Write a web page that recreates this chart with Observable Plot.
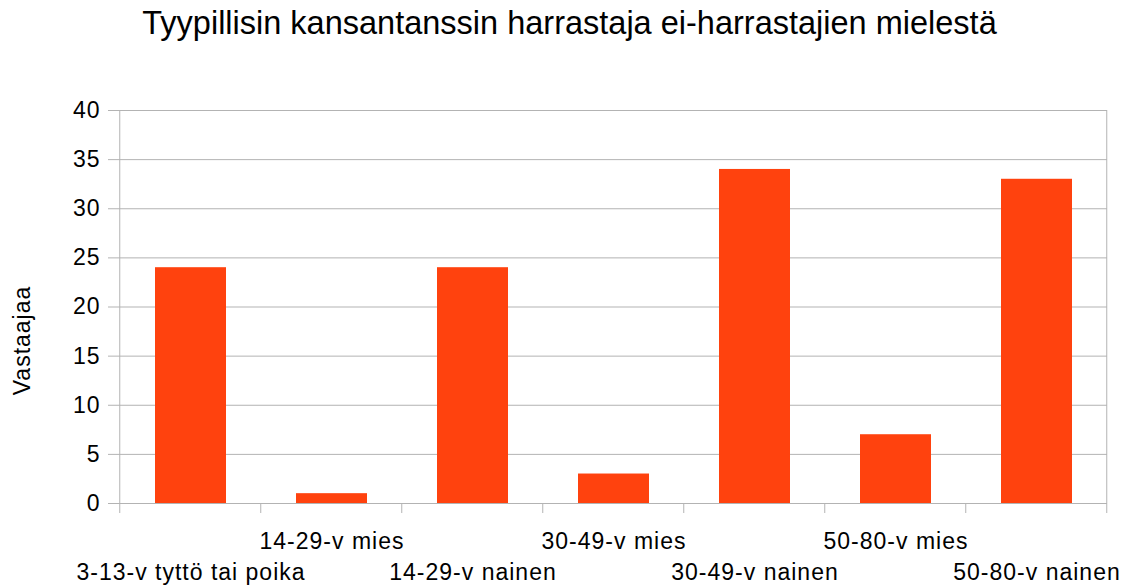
<!DOCTYPE html>
<html>
<head>
<meta charset="utf-8">
<script src="https://cdn.jsdelivr.net/npm/d3@7"></script>
<script src="https://cdn.jsdelivr.net/npm/@observablehq/plot@0.6"></script>
<style>
  body { margin: 0; background: #fff; font-family: "Liberation Sans", Arial, sans-serif; }
  #title { width: 1129px; box-sizing: border-box; padding-left: 10px; margin-top: 3px; height: 40px;
           font-size: 32.5px; line-height: 40px; text-align: center; color: #000; white-space: nowrap; }
  #chart svg { display: block; }
</style>
</head>
<body>
<div id="title"></div>
<div id="chart"></div>
<script>
const titleText = "Tyypillisin kansantanssin harrastaja ei-harrastajien mielestä";
const yLabel = "Vastaajaa";
const categories = [
  "3-13-v tyttö tai poika",
  "14-29-v mies",
  "14-29-v nainen",
  "30-49-v mies",
  "30-49-v nainen",
  "50-80-v mies",
  "50-80-v nainen"
];
const values = [24, 1, 24, 3, 34, 7, 33];
const yTicks = [0, 5, 10, 15, 20, 25, 30, 35, 40];

document.getElementById("title").textContent = titleText;

const data = categories.map((c, i) => ({category: c, value: values[i]}));
const upperRow = categories.filter((c, i) => i % 2 === 1);
const lowerRow = categories.filter((c, i) => i % 2 === 0);

const gridColor = "#b3b3b3";
const barColor = "#ff420e";

const plot = Plot.plot({
  width: 1129,
  height: 542,
  marginTop: 67,
  marginBottom: 82,
  marginLeft: 119,
  marginRight: 22,
  style: {fontFamily: "'Liberation Sans', Arial, sans-serif", background: "#fff", color: "#000", letterSpacing: "1px"},
  x: {domain: categories, paddingInner: 0.5, paddingOuter: 0.25, label: null},
  y: {domain: [0, 40], label: null},
  marks: [
    Plot.gridY(yTicks, {stroke: gridColor, strokeOpacity: 1, strokeWidth: 1}),
    Plot.barY(data, {x: "category", y: "value", fill: barColor}),
    Plot.axisY(yTicks, {tickSize: 11, tickPadding: 8, fontSize: 23, stroke: gridColor, fill: "#000", label: null}),
    Plot.axisX(upperRow, {tickSize: 0, tickPadding: 29, fontSize: 23, fill: "#000", label: null}),
    Plot.axisX(lowerRow, {tickSize: 0, tickPadding: 60, fontSize: 23, fill: "#000", label: null})
  ]
});

// band-boundary tick marks and side lines, derived from the x scale
const xs = plot.scale("x");
const step = xs.step;
const outer = xs.paddingOuter !== undefined ? xs.paddingOuter : 0.25;
const firstStart = xs.apply(categories[0]) - outer * step;
const boundaries = d3.range(categories.length + 1).map(i => firstStart + i * step);
const ys = plot.scale("y");
const yTop = ys.apply(40), yBottom = ys.apply(0);
const g = d3.select(plot).append("g").attr("stroke", gridColor).attr("stroke-width", 1);
boundaries.forEach((bx, i) => {
  const edge = i === 0 || i === boundaries.length - 1;
  g.append("line")
    .attr("x1", bx).attr("x2", bx)
    .attr("y1", edge ? yTop : yBottom).attr("y2", yBottom + 10);
});

// y-axis title
d3.select(plot).append("text")
  .attr("transform", `translate(22,${(yTop + yBottom) / 2 + 34}) rotate(-90)`)
  .attr("text-anchor", "middle")
  .attr("dy", "0.35em")
  .attr("font-size", 23)
  .attr("fill", "#000")
  .text(yLabel);

document.getElementById("chart").appendChild(plot);
</script>
</body>
</html>
